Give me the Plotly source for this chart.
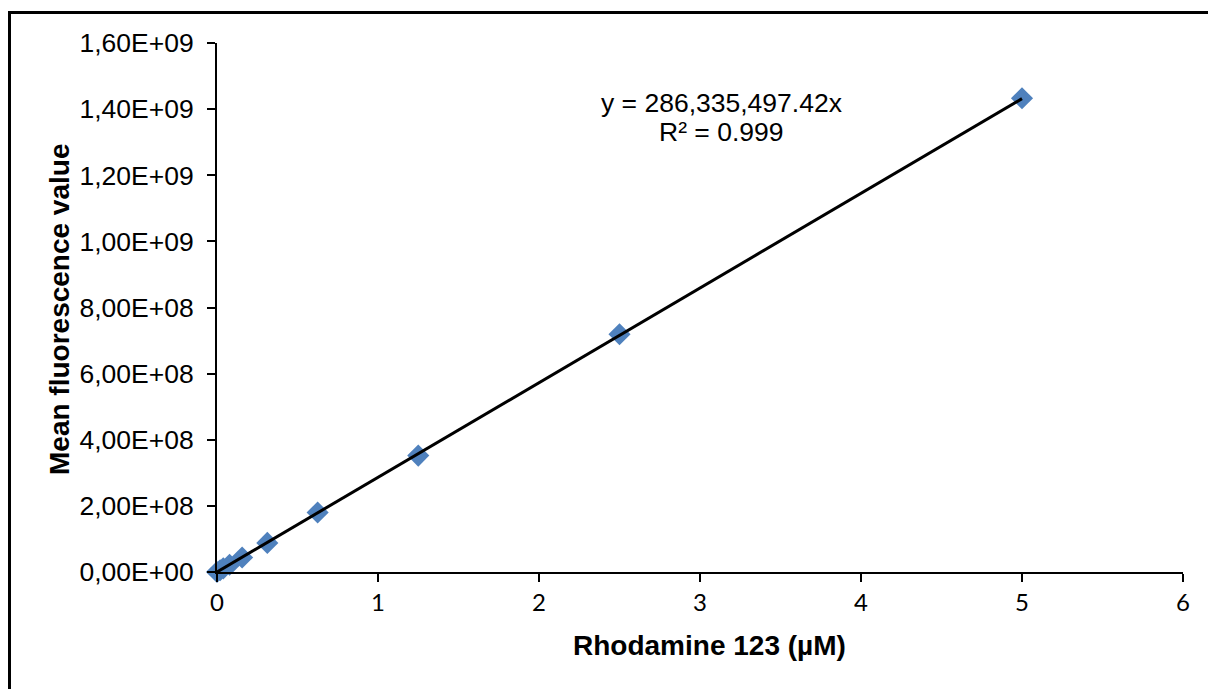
import plotly.graph_objects as go

# Rhodamine 123 calibration: concentration (µM) vs mean fluorescence
concentration = [0, 0.0195, 0.039, 0.078, 0.156, 0.3125, 0.625, 1.25, 2.5, 5]
fluorescence = [0, 5.5e6, 1.1e7, 2.2e7, 4.4e7, 8.8e7, 1.80e8, 3.52e8, 7.19e8, 1.433e9]

# Linear fit forced through the origin
slope = 286335497.42
r_squared = 0.999
fit_x = [0, 5]
fit_y = [slope * v for v in fit_x]

y_tick_vals = [0, 2e8, 4e8, 6e8, 8e8, 1.0e9, 1.2e9, 1.4e9, 1.6e9]
y_tick_text = ["0,00E+00", "2,00E+08", "4,00E+08", "6,00E+08", "8,00E+08",
               "1,00E+09", "1,20E+09", "1,40E+09", "1,60E+09"]
x_tick_vals = [0, 1, 2, 3, 4, 5, 6]

W, H = 1208, 689
L, R, T, B = 217, 25, 43, 117
pw, ph = W - L - R, H - T - B


def px(xp):
    return (xp - L) / pw


def py(yp):
    return (H - B - yp) / ph


fig = go.Figure()
fig.add_trace(go.Scatter(
    x=concentration, y=fluorescence, mode="markers",
    marker=dict(symbol="diamond", size=17, color="#4F81BD", line=dict(width=0)),
    cliponaxis=False, showlegend=False,
))
fig.add_trace(go.Scatter(
    x=fit_x, y=fit_y, mode="lines",
    line=dict(color="black", width=3),
    cliponaxis=False, showlegend=False,
))

fig.update_layout(
    width=W, height=H,
    margin=dict(l=L, r=R, t=T, b=B),
    paper_bgcolor="white", plot_bgcolor="white",
    showlegend=False,
    xaxis=dict(
        range=[0, 6], tickvals=x_tick_vals, showgrid=False, zeroline=False,
        showline=True, linecolor="black", linewidth=2,
        ticks="outside", ticklen=8, tickwidth=2, tickcolor="black",
        tickfont=dict(family="Lato", size=24, color="black"),
    ),
    yaxis=dict(
        range=[0, 1.6e9], tickvals=y_tick_vals, ticktext=y_tick_text,
        showgrid=False, zeroline=False,
        showline=True, linecolor="black", linewidth=2,
        ticks="outside", ticklen=8, tickwidth=2, tickcolor="black",
        tickfont=dict(family="Liberation Sans, Arial", size=26.5, color="black"),
        ticklabelstandoff=8,
    ),
    shapes=[dict(
        type="rect", xref="paper", yref="paper",
        x0=px(9.5), x1=px(W + 20), y0=py(12.5), y1=py(H + 20),
        line=dict(color="black", width=3), fillcolor="rgba(0,0,0,0)",
        layer="above",
    )],
    annotations=[
        dict(text="<b>Rhodamine 123 (µM)</b>", xref="paper", yref="paper",
             x=px(709), y=py(645), showarrow=False,
             font=dict(family="Liberation Sans, Arial", size=28, color="black"),
             xanchor="center", yanchor="middle"),
        dict(text="<b>Mean fluorescence value</b>", xref="paper", yref="paper",
             x=px(60), y=py(310), showarrow=False, textangle=-90,
             font=dict(family="Liberation Sans, Arial", size=28, color="black"),
             xanchor="center", yanchor="middle"),
        dict(text=f"y = {slope:,.2f}x", xref="paper", yref="paper",
             x=px(721), y=py(103), showarrow=False,
             font=dict(family="Liberation Sans, Arial", size=26.5, color="black"),
             xanchor="center", yanchor="middle"),
        dict(text=f"R² = {r_squared}", xref="paper", yref="paper",
             x=px(721), y=py(132), showarrow=False,
             font=dict(family="Liberation Sans, Arial", size=26.5, color="black"),
             xanchor="center", yanchor="middle"),
    ],
)

fig.write_html("out.html")
